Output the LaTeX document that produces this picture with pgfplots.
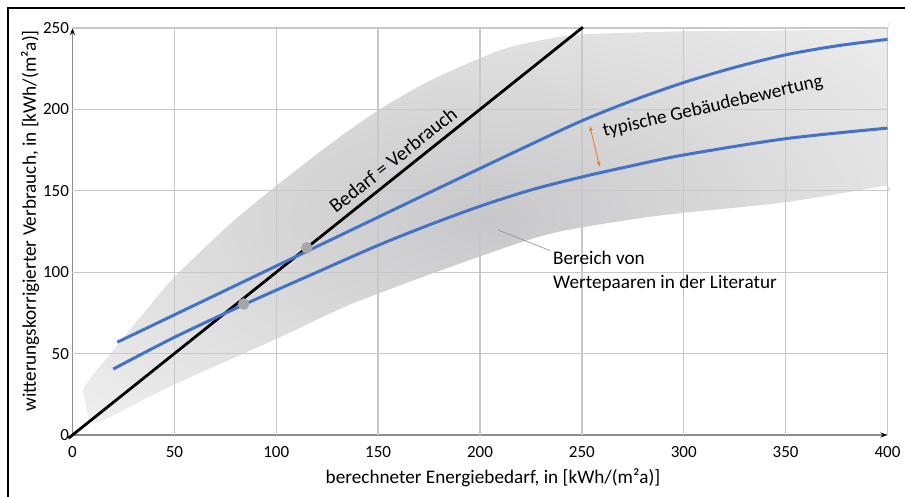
\documentclass[border=0pt]{standalone}
\usepackage{pgfplots}
\pgfplotsset{compat=1.18}
\usepackage{fontspec}
\setmainfont{Carlito}
\usetikzlibrary{arrows.meta}

\definecolor{kurve}{RGB}{68,114,196}
\definecolor{gitter}{RGB}{200,200,200}
\definecolor{punkt}{RGB}{166,166,166}
\definecolor{pfeil}{RGB}{237,125,49}
\definecolor{bdunkel}{RGB}{200,200,202}
\definecolor{bhell}{RGB}{244,244,244}
\pgfdeclareradialshading{bereich}{\pgfpoint{0bp}{0bp}}{color(0bp)=(bdunkel); color(40bp)=(bhell); color(50bp)=(bhell)}

\newcommand{\tickfont}{\fontsize{17}{20}\selectfont}
\newcommand{\lblfont}{\fontsize{19.2}{24}\selectfont}

\begin{document}
\begin{tikzpicture}[x=1pt,y=1pt]
\useasboundingbox (0,0) rectangle (905,497);
% Rahmen
\draw[line width=2pt] (8,-5) -- (8,489) -- (910,489);

\begin{axis}[
  at={(72.5pt,62pt)}, anchor=south west,
  scale only axis, width=815pt, height=407pt,
  xmin=0, xmax=400, ymin=0, ymax=250,
  enlargelimits=false, clip=false,
  axis lines=left,
  axis line style={draw=black!45, line width=1.3pt},
  x axis line style={-{Stealth[length=7pt,width=5pt,black]}},
  y axis line style={-{Stealth[length=7pt,width=5pt,black]}},
  xtick={0,50,...,400}, ytick={0,50,...,250},
  major tick length=0pt,
  /pgf/number format/assume math mode=true,
  tick label style={font=\tickfont},
  xticklabel style={yshift=-8pt},
  label style={font=\lblfont},
  xlabel={berechneter Energiebedarf, in [kWh/(m²a)]},
  ylabel={witterungskorrigierter Verbrauch, in [kWh/(m²a)]},
  xlabel style={at={(axis description cs:0.516,-0.106)}, anchor=center},
  ylabel style={at={(axis description cs:-0.052,0.526)}, anchor=center},
]

% Bereich von Wertepaaren
\addplot[draw=none, shading=bereich, smooth, tension=0.45]
coordinates {
(5,28) (10,37) (20,52) (35,75) (50,97) (75,127) (90,143) (106,159)
(130,182) (152,201) (176,218) (209,236) (230,242.5) (250,246) (300,248)
(350,248.5) (398,249) (400,248) (400,155) (398,153) (350,143) (300,136.5)
(283,134) (234,123.5) (185,103) (136,80) (100,59) (50,31) (20,12) (12,7) (8,9)
} -- cycle;

% Gitterlinien ueber dem Bereich
\pgfplotsinvokeforeach{50,100,...,400}{
  \addplot[gitter, line width=1.3pt, forget plot] coordinates {(#1,0) (#1,250)};
}
\pgfplotsinvokeforeach{50,100,...,250}{
  \addplot[gitter, line width=1.3pt, forget plot] coordinates {(0,#1) (400,#1)};
}

% Bedarf = Verbrauch
\addplot[black, line width=2.8pt] coordinates {(-2,-2) (250.5,250.5)};

% obere Kurve
\addplot[kurve, line width=3pt, smooth] coordinates {
(22,57) (60,79.8) (100,103.8) (140,127.8) (180,151.8) (220,175.6) (250,193)
(275,205.5) (300,216.5) (325,225.8) (350,233.5) (375,239) (400,243)
};

% untere Kurve
\addplot[kurve, line width=3pt, smooth] coordinates {
(20,40.5) (50,60) (84,80) (120,100) (150,116.5) (175,129) (200,140.5)
(225,150.5) (250,158.5) (275,165.5) (300,172) (350,182) (400,188.5)
};

% Punkte
\addplot[only marks, mark=*, mark size=5.5pt, color=punkt] coordinates {(84,80.5) (115,115)};

\node[rotate=38.4, font=\fontsize{20}{24}\selectfont] at (axis cs:157.3,169) {Bedarf = Verbrauch};
\node[rotate=13, font=\lblfont] at (axis cs:314.3,201.6) {typische Gebäudebewertung};
\draw[pfeil, line width=0.9pt, {Latex[length=5pt,width=4pt]}-{Latex[length=5pt,width=4pt]}]
  (axis cs:253.9,190) -- (axis cs:258.8,164.7);
\draw[black!45, line width=0.6pt] (axis cs:208.8,126) -- (axis cs:234.3,113.3);
\node[anchor=west, align=left, font=\lblfont, inner sep=0pt] at (axis cs:235.8,100.8)
  {Bereich von\\Wertepaaren in der Literatur};
\end{axis}
\end{tikzpicture}
\end{document}
